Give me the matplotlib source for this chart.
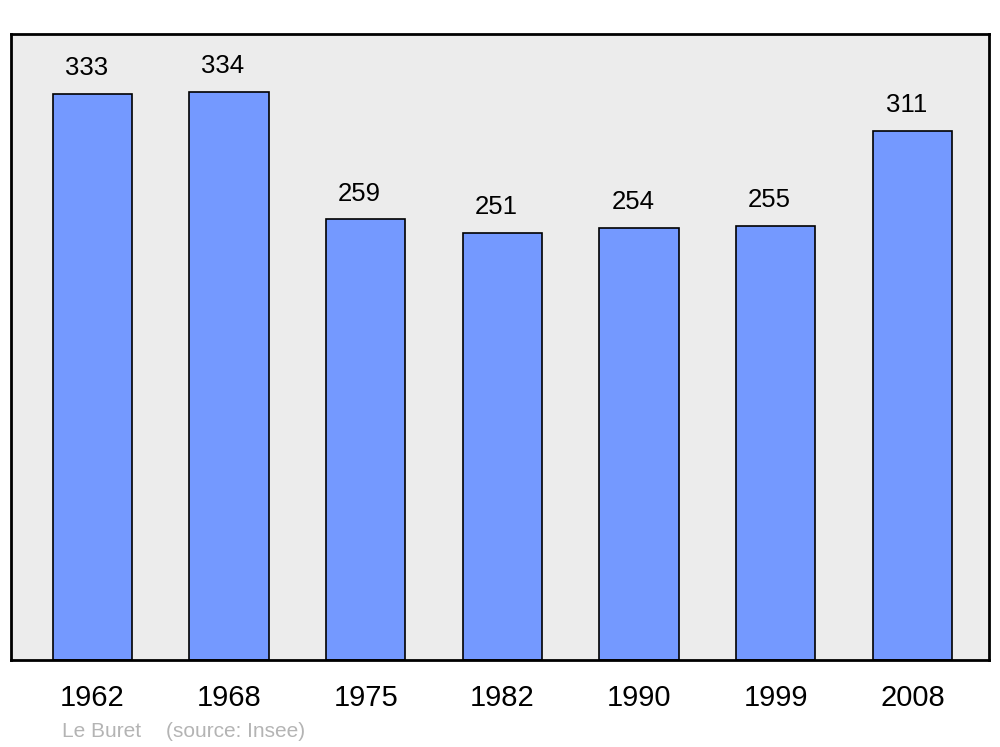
import numpy as np
import matplotlib
matplotlib.use("Agg")
import matplotlib.pyplot as plt

plt.rcParams['font.family'] = ['Liberation Sans', 'DejaVu Sans']

years = ["1962", "1968", "1975", "1982", "1990", "1999", "2008"]
population = [333, 334, 259, 251, 254, 255, 311]
commune = "Le Buret"
source = "(source: Insee)"

fig = plt.figure(figsize=(10, 7.47), dpi=100)
ax = fig.add_axes([0.011, 0.1165, 0.978, 0.838])
ax.set_facecolor('#ececec')

x = np.arange(len(years))
ax.bar(x, population, width=0.58, color='#7499ff', edgecolor='black', linewidth=1.2, zorder=2)

for xi, v in zip(x, population):
    ax.annotate(str(v), (xi, v), xytext=(-4.5, 13.5), textcoords='offset points',
                ha='center', va='baseline', fontsize=18.5)

ax.set_xlim(-0.595, 6.56)
ax.set_ylim(0, 368)
ax.set_yticks([])
ax.set_xticks(x)
ax.set_xticklabels(years, fontsize=21)
ax.tick_params(axis='x', length=0, pad=17)
for s in ax.spines.values():
    s.set_linewidth(2)

fig.text(0.062, 0.0135, commune, color='#b4b4b4', fontsize=15)
fig.text(0.166, 0.0135, source, color='#b4b4b4', fontsize=15)

fig.savefig("out.png")
